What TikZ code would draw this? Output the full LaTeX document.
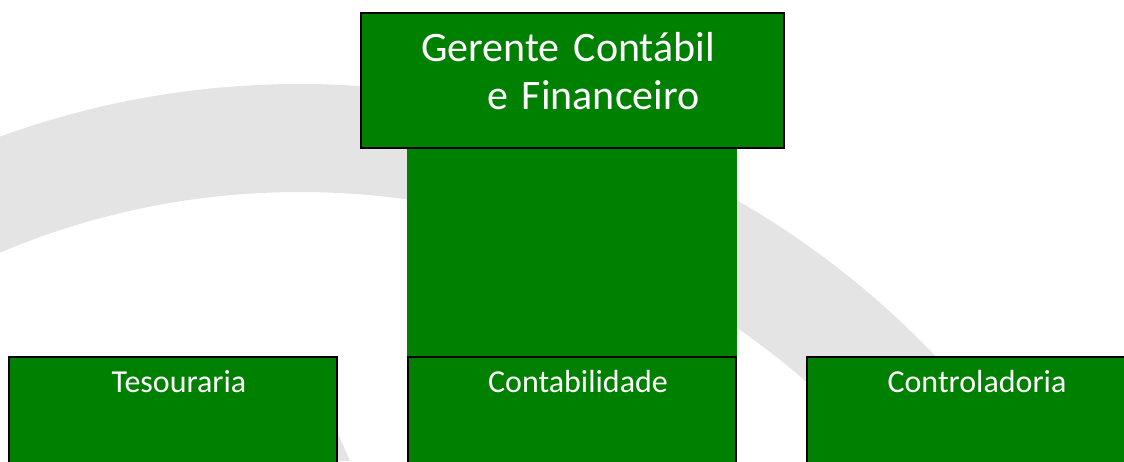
\documentclass[tikz,border=0pt]{standalone}
\usepackage{fontspec}
\setmainfont{Carlito}
\usepackage{tikz}
\usetikzlibrary{positioning, backgrounds}
\definecolor{orggreen}{RGB}{0,128,0}
\definecolor{ringgrey}{RGB}{228,228,228}
\tikzset{
  orgbox/.style={draw=black, line width=2pt, fill=orggreen, text=white, inner sep=0pt},
  unitbox/.style={orgbox, anchor=north west, minimum width=328pt, text height=35pt, text depth=95pt, font=\fontsize{32}{38}\selectfont, execute at begin node={\hspace*{12pt}}}
}
\begin{document}
\begin{tikzpicture}[x=1pt, y=-1pt]
        \useasboundingbox (0,0) rectangle (1124,461);
        \clip (0,0) rectangle (1124,461);

        % Head node
        \node[orgbox, anchor=north west, inner xsep=60pt, text width=303pt, align=left, text height=48pt, text depth=87pt, font=\fontsize{42}{48}\selectfont] (gerente) at (360,12) {Gerente Contábil\\\hspace*{66pt}e Financeiro};

        % Department nodes
        \node[unitbox] (tesouraria) at (8,356) {Tesouraria};
        \node[unitbox] (contabilidade) at (407,356) {Contabilidade};
        \node[unitbox] (controladoria) at (806,356) {Controladoria};

        % Watermark ring and connector, behind the boxes
        \begin{scope}[on background layer]
            \clip (0,0) rectangle (1124,461);
            \fill[ringgrey, even odd rule] (300,962) circle[radius=878] (300,962) circle[radius=770];
            \fill[ringgrey] (336,429) -- (350,461) -- (336,461) -- cycle;
            \fill[orggreen] (gerente.south -| contabilidade.west) rectangle (contabilidade.north east);
        \end{scope}
    \end{tikzpicture}
\end{document}
